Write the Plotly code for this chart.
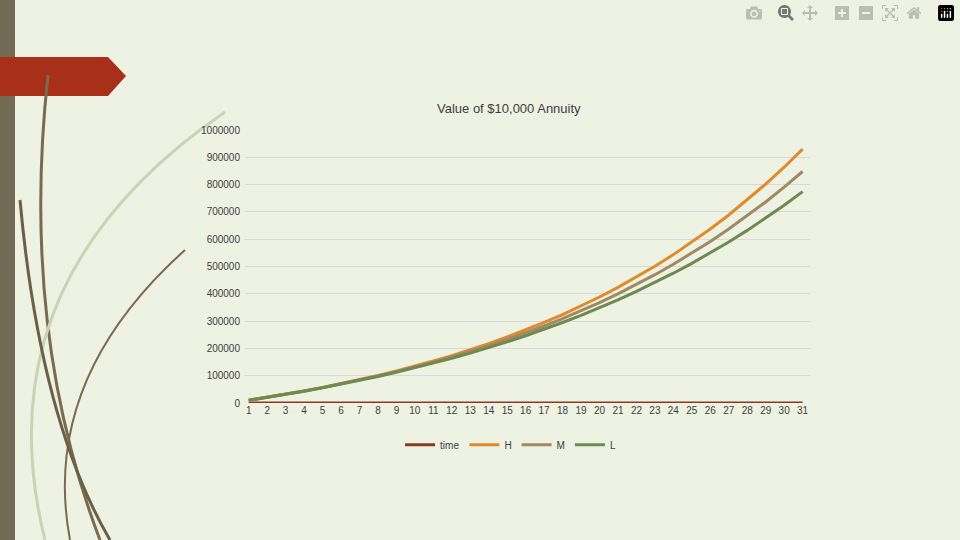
import plotly.graph_objects as go

years = list(range(1, 32))
time_vals = list(range(1, 32))
H = [10000,20650,31992,44072,56937,70638,85229,100769,117319,134945,153716,173707,194998,217673,241822,267540,294930,324101,355167,388253,423490,461017,500983,543547,588878,637155,688570,743327,801643,863750,929894]
M = [10000,20600,31836,43746,56371,69753,83938,98975,114913,131808,149716,168699,188821,210151,232760,256725,282129,309057,337600,367856,399927,433923,469958,508156,548645,591564,637058,685281,736398,790582,848017]
L = [10000,20550,31680,43423,55811,68881,82669,97216,112563,128754,145835,163856,182868,202926,224087,246411,269964,294812,321026,348683,377861,408643,441118,475380,511526,549660,589891,632335,677113,724354,774193]

fig = go.Figure()
for name, vals, col in [("time", time_vals, "#8b3a1f"), ("H", H, "#e08a2c"), ("M", M, "#a08a64"), ("L", L, "#6f8a50")]:
    fig.add_trace(go.Scatter(x=years, y=vals, name=name, mode="lines", line=dict(color=col, width=3)))

def px(x): return (x - 245) / (810 - 245)
def py(y): return (403 - y) / (403 - 130)
shapes = [
    dict(type="rect", xref="paper", yref="paper", x0=px(0), x1=px(15), y0=py(540), y1=py(0), fillcolor="#726a52", line_width=0, layer="below"),
    dict(type="path", xref="paper", yref="paper",
         path=f"M {px(0)} {py(57)} L {px(108)} {py(57)} L {px(126)} {py(76)} L {px(108)} {py(96)} L {px(0)} {py(96)} Z",
         fillcolor="#a8301a", line_width=0, layer="below"),
    dict(type="path", xref="paper", yref="paper",
         path=f"M {px(48)} {py(75)} Q {px(20)} {py(330)} {px(100)} {py(540)}", line=dict(color="#7a6a50", width=3), layer="below"),
    dict(type="path", xref="paper", yref="paper",
         path=f"M {px(185)} {py(250)} Q {px(40)} {py(380)} {px(70)} {py(540)}", line=dict(color="#7a6a50", width=2), layer="below"),
    dict(type="path", xref="paper", yref="paper",
         path=f"M {px(225)} {py(112)} Q {px(-20)} {py(280)} {px(45)} {py(540)}", line=dict(color="#c9d3b5", width=3), layer="below"),
    dict(type="path", xref="paper", yref="paper",
         path=f"M {px(20)} {py(200)} Q {px(40)} {py(420)} {px(110)} {py(540)}", line=dict(color="#6a6048", width=3), layer="below"),
]

fig.update_layout(
    width=960, height=540,
    margin=dict(l=245, r=150, t=130, b=137),
    paper_bgcolor="#eef2e2", plot_bgcolor="rgba(0,0,0,0)",
    font=dict(family="Liberation Sans, Arial", size=10, color="#404040"),
    title=dict(text="Value of $10,000 Annuity", x=0.53, xanchor="center", y=0.8, yanchor="middle", font=dict(size=13, color="#404040")),
    xaxis=dict(tickmode="array", tickvals=years, ticktext=[str(y) for y in years], range=[0.8, 31.4], showgrid=False, zeroline=False, showline=False, ticks=""),
    yaxis=dict(range=[0, 1000000], dtick=100000, gridcolor="#d9d9d9", zeroline=False, showline=False, tickformat="d", ticks="", ticklabelstandoff=4),
    legend=dict(orientation="h", x=0.47, xanchor="center", y=-0.1, yanchor="top", font=dict(size=10)),
    shapes=shapes,
)
fig.write_html("out.html", post_script="document.body.style.margin='0';document.body.style.overflow='hidden';")
